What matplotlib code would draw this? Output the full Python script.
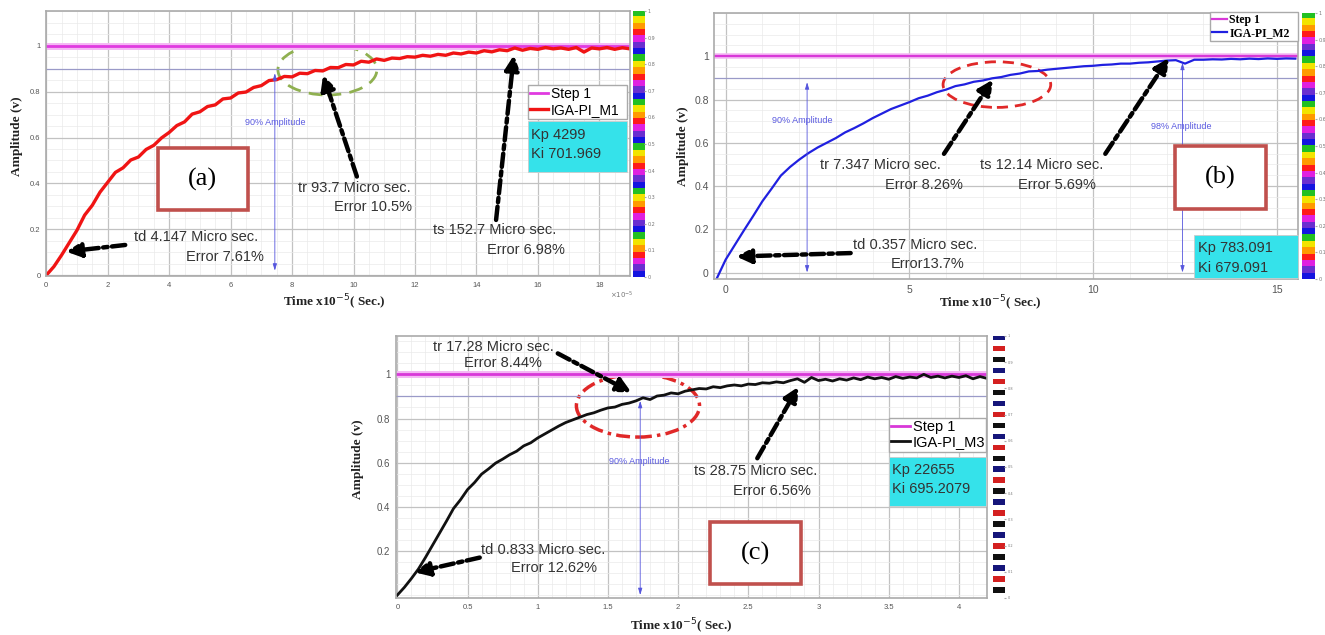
import numpy as np
import matplotlib.pyplot as plt
from matplotlib.patches import Ellipse, Rectangle
from matplotlib.colors import ListedColormap
from matplotlib.ticker import MultipleLocator

SANS = 'Liberation Sans'
SERIF = 'Liberation Serif'
TXT = '#333333'

# ---- panel (a): IGA-PI_M1 ----
t_a = [0.0, 0.25, 0.5, 0.75, 1.0, 1.25, 1.5, 1.75, 2.0, 2.25, 2.5, 2.75, 3.0, 3.25, 3.5, 3.75,
       4.0, 4.25, 4.5, 4.75, 5.0, 5.25, 5.5, 5.75, 6.0, 6.25, 6.5, 6.75, 7.0, 7.25, 7.5, 7.75,
       8.0, 8.25, 8.5, 8.75, 9.0, 9.25, 9.5, 9.75, 10.0, 10.25, 10.5, 10.75, 11.0, 11.25, 11.5,
       11.75, 12.0, 12.25, 12.5, 12.75, 13.0, 13.25, 13.5, 13.75, 14.0, 14.25, 14.5, 14.75, 15.0,
       15.25, 15.5, 15.75, 16.0, 16.25, 16.5, 16.75, 17.0, 17.25, 17.5, 17.75, 18.0, 18.25, 18.5,
       18.75, 19.0]
y_a = [0.000, 0.038, 0.088, 0.142, 0.196, 0.262, 0.305, 0.362, 0.405, 0.448, 0.468, 0.502, 0.515,
       0.548, 0.566, 0.598, 0.622, 0.652, 0.668, 0.702, 0.712, 0.735, 0.742, 0.768, 0.772, 0.794,
       0.798, 0.818, 0.826, 0.848, 0.852, 0.866, 0.864, 0.880, 0.878, 0.892, 0.890, 0.905, 0.904,
       0.918, 0.916, 0.932, 0.928, 0.942, 0.936, 0.946, 0.944, 0.952, 0.950, 0.958, 0.954, 0.962,
       0.958, 0.968, 0.964, 0.972, 0.968, 0.978, 0.973, 0.982, 0.978, 0.990, 0.980, 0.988, 0.984,
       0.992, 0.986, 0.990, 0.984, 0.992, 0.972, 0.990, 0.986, 0.992, 0.984, 0.991, 0.986]

# ---- panel (b): IGA-PI_M2 ----
t_b = [-0.25, 0.0, 0.25, 0.5, 0.75, 1.0, 1.25, 1.5, 1.75, 2.0, 2.25, 2.5, 2.75, 3.0, 3.25, 3.5,
       3.75, 4.0, 4.25, 4.5, 4.75, 5.0, 5.25, 5.5, 5.75, 6.0, 6.25, 6.5, 6.75, 7.0, 7.25, 7.5, 7.75,
       8.0, 8.25, 8.5, 8.75, 9.0, 9.25, 9.5, 9.75, 10.0, 10.25, 10.5, 10.75, 11.0, 11.25, 11.5,
       11.75, 12.0, 12.25, 12.5, 12.75, 13.0, 13.25, 13.5, 13.75, 14.0, 14.25, 14.5, 14.75, 15.0,
       15.25, 15.5]
y_b = [-0.030, 0.060, 0.128, 0.196, 0.262, 0.330, 0.388, 0.448, 0.488, 0.522, 0.552, 0.578, 0.600,
       0.622, 0.648, 0.668, 0.690, 0.714, 0.735, 0.756, 0.772, 0.788, 0.806, 0.818, 0.834, 0.846,
       0.862, 0.870, 0.882, 0.888, 0.898, 0.904, 0.914, 0.920, 0.930, 0.932, 0.938, 0.942, 0.946,
       0.950, 0.954, 0.956, 0.960, 0.962, 0.966, 0.966, 0.970, 0.972, 0.976, 0.980, 0.982, 0.966,
       0.984, 0.984, 0.986, 0.985, 0.988, 0.986, 0.989, 0.987, 0.990, 0.988, 0.990, 0.989]

# ---- panel (c): IGA-PI_M3 ----
t_c = [0.00, 0.05, 0.10, 0.15, 0.20, 0.25, 0.30, 0.35, 0.40, 0.45, 0.50, 0.55, 0.60, 0.65, 0.70,
       0.75, 0.80, 0.85, 0.90, 0.95, 1.00, 1.05, 1.10, 1.15, 1.20, 1.25, 1.30, 1.35, 1.40, 1.45,
       1.50, 1.55, 1.60, 1.65, 1.70, 1.75, 1.80, 1.85, 1.90, 1.95, 2.00, 2.05, 2.10, 2.15, 2.20,
       2.25, 2.30, 2.35, 2.40, 2.45, 2.50, 2.55, 2.60, 2.65, 2.70, 2.75, 2.80, 2.85, 2.90, 2.95,
       3.00, 3.05, 3.10, 3.15, 3.20, 3.25, 3.30, 3.35, 3.40, 3.45, 3.50, 3.55, 3.60, 3.65, 3.70,
       3.75, 3.80, 3.85, 3.90, 3.95, 4.00, 4.05, 4.10, 4.15, 4.20]
y_c = [0.000, 0.035, 0.075, 0.118, 0.170, 0.225, 0.280, 0.335, 0.392, 0.432, 0.478, 0.510, 0.548,
       0.572, 0.598, 0.616, 0.636, 0.652, 0.676, 0.690, 0.712, 0.730, 0.748, 0.766, 0.782, 0.794,
       0.806, 0.818, 0.826, 0.838, 0.848, 0.852, 0.864, 0.870, 0.880, 0.894, 0.886, 0.902, 0.906,
       0.916, 0.912, 0.924, 0.930, 0.936, 0.934, 0.944, 0.940, 0.948, 0.952, 0.948, 0.956, 0.954,
       0.962, 0.960, 0.966, 0.962, 0.972, 0.980, 0.964, 0.986, 0.972, 0.978, 0.970, 0.980, 0.974,
       0.984, 0.976, 0.988, 0.980, 0.986, 0.978, 0.990, 0.982, 0.988, 0.984, 1.000, 0.986, 0.992,
       0.984, 0.992, 0.986, 0.994, 0.980, 0.990, 0.982]

step_level = 1.0
pct90 = 0.9

fig = plt.figure(figsize=(13.25, 6.35), dpi=100)


def setup(ax, xlim, ylim, xticks, yticks, xminor, xfs, yfs):
    ax.set_xlim(xlim)
    ax.set_ylim(ylim)
    ax.set_xticks(xticks)
    ax.set_yticks(yticks)
    ax.set_xticklabels([f'{v:g}' for v in xticks], fontsize=xfs, color='#555555', family=SANS)
    ax.set_yticklabels([f'{v:g}' for v in yticks], fontsize=yfs, color='#555555', family=SANS)
    ax.xaxis.set_minor_locator(MultipleLocator(xminor))
    ax.yaxis.set_minor_locator(MultipleLocator(0.05))
    ax.grid(which='major', color='#c2c2c2', lw=0.9)
    ax.grid(which='minor', color='#eaeaea', lw=0.5)
    ax.set_axisbelow(True)
    ax.tick_params(which='both', length=0, pad=4)
    for s in ax.spines.values():
        s.set_color('#aaaaaa')
        s.set_linewidth(1.2)


def dash_arrow(ax, tail, tip):
    ax.annotate('', xy=tip, xytext=tail,
                arrowprops=dict(arrowstyle='-|>,head_length=0.85,head_width=0.42', color='black',
                                lw=3.2, linestyle=(0, (3, 1, 1, 1)), shrinkA=0, shrinkB=0))


def amp_marker(ax, x, y_top, y_bot):
    ax.annotate('', xy=(x, y_top), xytext=(x, y_bot),
                arrowprops=dict(arrowstyle='<|-|>,head_length=0.4,head_width=0.12', color='#5555dd',
                                lw=0.6, shrinkA=0, shrinkB=0))


def stripes(rect, colors, fs):
    cax = fig.add_axes(rect)
    cax.imshow(np.arange(len(colors)).reshape(-1, 1), cmap=ListedColormap(colors), aspect='auto',
               extent=[0, 1, 0, 1], interpolation='nearest')
    cax.set_xticks([])
    cax.yaxis.tick_right()
    ticks = np.linspace(0, 1, 11)
    cax.set_yticks(ticks)
    cax.set_yticklabels([f'{v:g}' for v in ticks], fontsize=fs, color='#777777')
    cax.tick_params(length=1.5, pad=1, color='#aaaaaa')
    for s in cax.spines.values():
        s.set_visible(False)


def label_box(x, y, w, h, txt):
    fig.add_artist(Rectangle((x, y), w, h, transform=fig.transFigure, facecolor='white',
                             edgecolor='#c0504d', lw=2.6, zorder=5))
    fig.text(x + w / 2, y + h / 2, txt, ha='center', va='center', fontsize=19, family=SERIF,
             zorder=6)


def gain_box(x, y, w, h, lines, tx, ty, fs):
    fig.add_artist(Rectangle((x, y), w, h, transform=fig.transFigure, facecolor='#35e2ea',
                             edgecolor='#cccccc', lw=0.6, zorder=5))
    for line, yy in zip(lines, ty):
        fig.text(tx, yy, line, ha='left', va='center', fontsize=fs, family=SANS, color=TXT, zorder=6)


rainbow = ['#22c022', '#f2e400', '#ff9a00', '#ff1a1a', '#e020e0', '#6a2ed0', '#1414e0'] * 6
flag = ['#15157a', '#ffffff', '#d42020', '#ffffff', '#101010', '#ffffff'] * 8

# ======================= (a) =======================
ax = fig.add_axes([0.0349, 0.5654, 0.4406, 0.4173])
setup(ax, (0, 19), (-0.003, 1.151), list(range(0, 19, 2)), [0, 0.2, 0.4, 0.6, 0.8, 1], 0.5, 5.5, 5.5)
ax.axhline(pct90, color='#9a9ac8', lw=0.9)
ax.plot([0, 19], [step_level] * 2, color='#f4b8f4', lw=5, solid_capstyle='butt')
h1, = ax.plot([0, 19], [step_level] * 2, color='#e03ae0', lw=2)
h2, = ax.plot(t_a, y_a, color='#f01414', lw=2.4)
amp_marker(ax, 7.44, 0.88, 0.02)
ax.text(7.46, 0.665, '90% Amplitude', ha='center', va='center', fontsize=6.5, color='#5a5ae0',
        family=SANS)
ax.add_patch(Ellipse((9.15, 0.895), 3.22, 0.22, fill=False, ec='#8fb050', lw=2, ls=(0, (5, 3))))
dash_arrow(ax, (2.57, 0.132), (0.65, 0.103))
dash_arrow(ax, (10.11, 0.43), (9.01, 0.872))
dash_arrow(ax, (14.64, 0.241), (15.22, 0.959))
for x, y, s in [(2.84, 0.165, 'td 4.147 Micro sec.'), (4.56, 0.081, 'Error 7.61%'),
                (8.19, 0.379, 'tr 93.7 Micro sec.'), (9.36, 0.296, 'Error 10.5%'),
                (12.58, 0.197, 'ts 152.7 Micro sec.'), (14.36, 0.110, 'Error 6.98%')]:
    ax.text(x, y, s, ha='left', va='center', fontsize=10.5, color=TXT, family=SANS)
ax.legend([h1, h2], ['Step 1', 'IGA-PI_M1'], loc='upper left',
          bbox_to_anchor=(0.3985, 0.811, 0.0747, 0.055), bbox_transform=fig.transFigure,
          mode='expand', borderaxespad=0, prop={'family': SANS, 'size': 10}, handlelength=1.3,
          handletextpad=0.2, borderpad=0.15, labelspacing=0.1, fancybox=False,
          edgecolor='#aaaaaa', framealpha=1)
fig.text(0.2525, 0.5244, 'Time x10$^{-5}$( Sec.)', ha='center', va='center', fontsize=9.5,
         family=SERIF, weight='bold', color='#222222')
fig.text(0.0127, 0.7861, 'Amplitude (v)', ha='center', va='center', rotation=90, fontsize=9.5,
         family=SERIF, weight='bold', color='#222222')
fig.text(0.4604, 0.5307, r'$\times10^{-5}$', fontsize=5, color='#777777')
stripes([0.4774, 0.5638, 0.0086, 0.4189], rainbow, 3.5)
gain_box(0.3985, 0.7291, 0.0747, 0.0803, ['Kp 4299', 'Ki 701.969'], 0.4010, [0.7874, 0.7575], 10.5)
label_box(0.1191, 0.6693, 0.0677, 0.0976, '(a)')

# ======================= (b) =======================
ax = fig.add_axes([0.5391, 0.5606, 0.4407, 0.4189])
setup(ax, (-0.31, 15.58), (-0.03, 1.2), [0, 5, 10, 15], [0, 0.2, 0.4, 0.6, 0.8, 1], 1, 7.5, 7.5)
ax.axhline(pct90, color='#9a9ac8', lw=0.9)
ax.plot([-0.31, 15.58], [step_level] * 2, color='#f4b8f4', lw=4, solid_capstyle='butt')
h1, = ax.plot([-0.31, 15.58], [step_level] * 2, color='#d838d8', lw=1.6)
h2, = ax.plot(t_b, y_b, color='#2020e0', lw=1.6)
amp_marker(ax, 2.215, 0.88, 0.0)
amp_marker(ax, 12.43, 0.97, 0.0)
ax.text(2.08, 0.704, '90% Amplitude', ha='center', va='center', fontsize=6.5, color='#5a5ae0',
        family=SANS)
ax.text(12.39, 0.676, '98% Amplitude', ha='center', va='center', fontsize=6.5, color='#5a5ae0',
        family=SANS)
ax.add_patch(Ellipse((7.38, 0.869), 2.93, 0.211, fill=False, ec='#e02828', lw=2, ls=(0, (4, 2.5))))
dash_arrow(ax, (3.40, 0.09), (0.29, 0.074))
dash_arrow(ax, (5.94, 0.549), (7.27, 0.892))
dash_arrow(ax, (10.33, 0.549), (12.06, 0.992))
for x, y, s in [(3.46, 0.128, 'td 0.357 Micro sec.'), (4.50, 0.039, 'Error13.7%'),
                (2.57, 0.495, 'tr 7.347 Micro sec.'), (4.33, 0.406, 'Error 8.26%'),
                (6.92, 0.495, 'ts 12.14 Micro sec.'), (7.96, 0.406, 'Error 5.69%')]:
    ax.text(x, y, s, ha='left', va='center', fontsize=10.5, color=TXT, family=SANS)
ax.legend([h1, h2], ['Step 1', 'IGA-PI_M2'], loc='upper left',
          bbox_to_anchor=(0.9132, 0.9323, 0.0664, 0.0488), bbox_transform=fig.transFigure,
          mode='expand', borderaxespad=0, prop={'family': SERIF, 'size': 8.5, 'weight': 'bold'},
          handlelength=1.3, handletextpad=0.2, borderpad=0.15, labelspacing=0.1, fancybox=False,
          edgecolor='#aaaaaa', framealpha=1)
fig.text(0.7475, 0.5228, 'Time x10$^{-5}$( Sec.)', ha='center', va='center', fontsize=9.5,
         family=SERIF, weight='bold', color='#222222')
fig.text(0.5157, 0.769, 'Amplitude (v)', ha='center', va='center', rotation=90, fontsize=9.5,
         family=SERIF, weight='bold', color='#222222')
stripes([0.983, 0.5606, 0.0094, 0.4189], rainbow, 3.5)
gain_box(0.9008, 0.5622, 0.0789, 0.0677, ['Kp 783.091', 'Ki 679.091'], 0.9039, [0.6094, 0.5780], 10.5)
label_box(0.8868, 0.6709, 0.0684, 0.0992, '(b)')

# ======================= (c) =======================
ax = fig.add_axes([0.2988, 0.0583, 0.4461, 0.4126])
setup(ax, (-0.01, 4.2), (-0.013, 1.174), [0, 0.5, 1, 1.5, 2, 2.5, 3, 3.5, 4],
      [0.2, 0.4, 0.6, 0.8, 1], 0.1, 5.5, 7)
ax.axhline(pct90, color='#9a9ac8', lw=0.9)
ax.plot([-0.01, 4.2], [step_level] * 2, color='#f4b8f4', lw=5, solid_capstyle='butt')
h1, = ax.plot([-0.01, 4.2], [step_level] * 2, color='#d838d8', lw=2)
h2, = ax.plot(t_c, y_c, color='#111111', lw=2)
amp_marker(ax, 1.73, 0.88, 0.0)
ax.text(1.72, 0.605, '90% Amplitude', ha='center', va='center', fontsize=6.5, color='#5a5ae0',
        family=SANS)
ax.add_patch(Ellipse((1.714, 0.858), 0.877, 0.284, fill=False, ec='#e02828', lw=2.5,
                     ls=(0, (4, 1.5, 1, 1.5))))
dash_arrow(ax, (1.143, 1.095), (1.668, 0.918))
dash_arrow(ax, (2.564, 0.62), (2.857, 0.944))
dash_arrow(ax, (0.587, 0.17), (0.124, 0.103))
for x, y, s in [(0.256, 1.125, 'tr 17.28 Micro sec.'), (0.473, 1.05, 'Error 8.44%'),
                (2.11, 0.564, 'ts 28.75 Micro sec.'), (2.394, 0.473, 'Error 6.56%'),
                (0.596, 0.205, 'td 0.833 Micro sec.'), (0.812, 0.122, 'Error 12.62%')]:
    ax.text(x, y, s, ha='left', va='center', fontsize=10.5, color=TXT, family=SANS)
ax.legend([h1, h2], ['Step 1', 'IGA-PI_M3'], loc='upper left',
          bbox_to_anchor=(0.6706, 0.2835, 0.0734, 0.0587), bbox_transform=fig.transFigure,
          mode='expand', borderaxespad=0, prop={'family': SANS, 'size': 10.5}, handlelength=1.3,
          handletextpad=0.2, borderpad=0.15, labelspacing=0.1, fancybox=False,
          edgecolor='#aaaaaa', framealpha=1)
fig.text(0.5142, 0.0131, 'Time x10$^{-5}$( Sec.)', ha='center', va='center', fontsize=9.5,
         family=SERIF, weight='bold', color='#222222')
fig.text(0.2703, 0.2772, 'Amplitude (v)', ha='center', va='center', rotation=90, fontsize=9.5,
         family=SERIF, weight='bold', color='#222222')
stripes([0.7491, 0.0583, 0.0086, 0.4126], flag, 2.5)
gain_box(0.6706, 0.2036, 0.0734, 0.0772, ['Kp 22655', 'Ki 695.2079'], 0.6729, [0.2598, 0.2299], 10.5)
label_box(0.5361, 0.0803, 0.0681, 0.0976, '(c)')

fig.savefig('out.png', dpi=100)
